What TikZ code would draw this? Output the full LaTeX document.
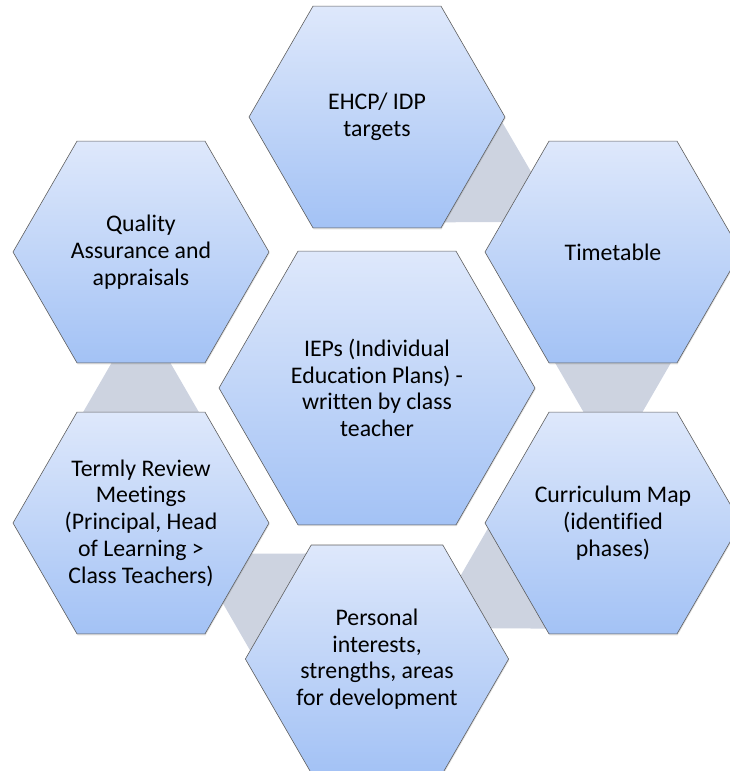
\documentclass[tikz,border=0pt]{standalone}
\usepackage{fontspec}
\setmainfont{Carlito}[Ligatures=NoCommon]
\usetikzlibrary{shapes.geometric,calc,shadows,backgrounds}
\definecolor{hextop}{RGB}{222,232,251}
\definecolor{hexbot}{RGB}{163,194,245}
\definecolor{linkgray}{RGB}{205,211,224}
\definecolor{hexline}{RGB}{95,95,95}
\begin{document}
\begin{tikzpicture}[x=1pt,y=-1pt,
  hexbox/.style={regular polygon, regular polygon sides=6, minimum size=256pt,
    inner sep=0pt, outer sep=0pt, draw=hexline, line width=0.6pt,
    top color=hextop, bottom color=hexbot, align=center,
    font=\fontsize{23.8}{26.7}\selectfont,
    drop shadow={opacity=0.25, shadow xshift=0.6pt, shadow yshift=-1.4pt}},
  bighex/.style={hexbox, minimum size=316pt},
  linkshape/.style={fill=linkgray, draw=none}]
\useasboundingbox (0,0) rectangle (730,771);
\node[hexbox] (ehcp) at (377,117) {EHCP/ IDP\\targets};
\node[hexbox] (time) at (613,252) {Timetable};
\node[hexbox] (curr) at (613,523) {Curriculum Map\\(identified\\phases)};
\node[hexbox] (pers) at (377,659) {Personal\\interests,\\strengths, areas\\for development};
\node[hexbox] (term) at (141,523) {Termly Review\\Meetings\\(Principal, Head\\of Learning >\\Class Teachers)};
\node[hexbox] (qual) at (141,252) {Quality\\Assurance and\\appraisals};
\node[bighex] (iep) at (377,388) {IEPs (Individual\\Education Plans) -\\written by class\\teacher};
\begin{scope}[on background layer]
  \foreach \a/\b in {ehcp/time, time/curr, curr/pers, pers/term, term/qual}{
    \fill[linkshape] ($(\a.center)!122pt!90:(\b.center)$) -- ($(\a.center)!211pt!(\b.center)$)
      -- ($(\a.center)!122pt!-90:(\b.center)$) -- cycle;
  }
\end{scope}
\end{tikzpicture}
\end{document}
